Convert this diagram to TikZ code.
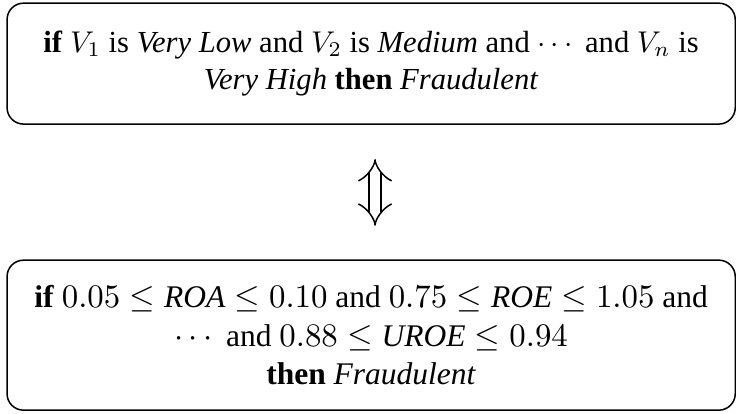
\documentclass[tikz,border=0pt]{standalone}
\usepackage{amsmath}
\usepackage{amssymb}
\usepackage[no-math]{fontspec}
\setmainfont{Liberation Serif}[ItalicFont={Liberation Serif Italic}, BoldFont={Liberation Serif Bold}]
\usepackage{xcolor}
\usepackage{tikz}
\usetikzlibrary{arrows.meta}

\begin{document}
\begin{tikzpicture}[x=1pt, y=1pt, every node/.style={draw, rounded corners=5.5pt, align=center, line width=0.5pt, inner sep=0pt, minimum width=242.7pt}]
				\useasboundingbox (0,0) rectangle (245.3,-137.7);
				\node (fuzzy) at (123.7,-21.2) [minimum height=40.3pt, font=\fontsize{10.2}{12.4}\selectfont] {\textbf{if} $V_1$ is \textit{Very Low} and $V_2$ is \textit{Medium} and $\cdots$ and $V_n$ is\\\textit{Very High} \textbf{then} \textit{Fraudulent}};
				\node (crisp) at (123.7,-111.7) [minimum height=50pt, font=\fontsize{10.5}{12.7}\selectfont] {\textbf{if} $0.05 \le \textit{ROA} \le 0.10$ and $0.75 \le \textit{ROE} \le 1.05$ and\\$\cdots$ and $0.88 \le \textit{UROE} \le 0.94$\\\textbf{then} \textit{Fraudulent}};
				
				\draw[{Implies}-{Implies}, double, double distance=3.6pt, line width=0.5pt, shorten <=11.4pt, shorten >=11.2pt] ([xshift=1.3pt]fuzzy.south) -- ([xshift=1.3pt]crisp.north);
			\end{tikzpicture}
\end{document}
